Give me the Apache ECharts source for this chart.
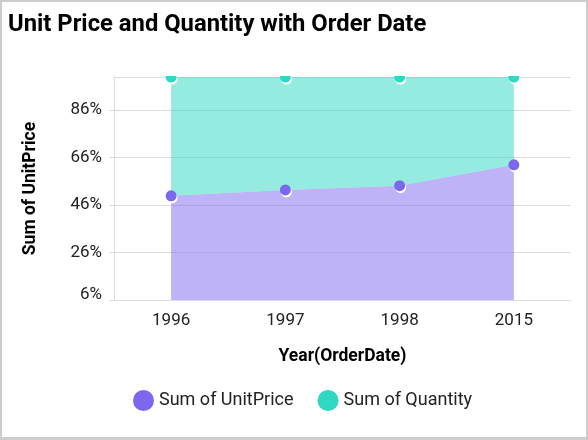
<!DOCTYPE html>
<html>
<head>
<meta charset="utf-8">
<script src="https://cdn.jsdelivr.net/npm/echarts@6/dist/echarts.min.js"></script>
<style>
    html, body { margin: 0; padding: 0; background: #fff; }
    #chart { width: 584px; height: 435px; border: 2px solid #cccccc; border-bottom-width: 3px; }
</style>
</head>
<body>
<div id="chart"></div>
<script>
// years on the x axis
var years = ['1996', '1997', '1998', '2015'];
// share of each series per year, in percent (100% stacked)
var unitPricePct = [49.9, 52.4, 54.2, 63.0];
var quantityPct = [50.1, 47.6, 45.8, 37.0];
var seriesNames = ['Sum of UnitPrice', 'Sum of Quantity'];

var purple = '#7b68ee';
var teal = '#2ed8c3';

var chart = echarts.init(document.getElementById('chart'));

function areaSeries(name, data, color) {
    return {
        name: name,
        type: 'line',
        stack: 'total',
        data: data,
        symbol: 'circle',
        symbolSize: 11,
        lineStyle: { width: 0 },
        areaStyle: { color: color, opacity: 0.5 },
        itemStyle: {
            color: color,
            shadowColor: '#ffffff',
            shadowBlur: 0,
            shadowOffsetX: 1,
            shadowOffsetY: 2
        },
        emphasis: { disabled: true }
    };
}

chart.setOption({
    animation: false,
    textStyle: { fontFamily: 'Roboto' },
    title: {
        text: 'Unit Price and Quantity with Order Date',
        left: 1,
        top: 6,
        textStyle: { fontSize: 23.8, fontWeight: 'bold', color: '#000' }
    },
    grid: { left: 112, right: 15, top: 75, bottom: 137 },
    legend: {
        bottom: 21,
        left: 126,
        icon: 'circle',
        itemWidth: 21,
        itemHeight: 21,
        itemGap: 24,
        itemStyle: { borderWidth: 0 },
        textStyle: { fontSize: 18, color: '#222' },
        data: seriesNames
    },
    xAxis: {
        type: 'category',
        data: years,
        boundaryGap: true,
        name: 'Year(OrderDate)',
        nameLocation: 'middle',
        nameGap: 48,
        nameTextStyle: { fontSize: 17.5, fontWeight: 'bold', color: '#000' },
        axisLine: { lineStyle: { color: '#dcdcdc' } },
        axisTick: { length: 6, lineStyle: { color: '#dcdcdc' } },
        axisLabel: { fontSize: 17, color: '#222', margin: 12 }
    },
    yAxis: {
        type: 'value',
        min: 6,
        max: 100,
        interval: 20,
        name: 'Sum of UnitPrice',
        nameLocation: 'middle',
        nameGap: 74,
        nameTextStyle: { fontSize: 17.5, fontWeight: 'bold', color: '#000' },
        axisLine: { show: true, lineStyle: { color: '#dcdcdc' } },
        axisTick: { show: true, length: 5, lineStyle: { color: '#dcdcdc' } },
        axisLabel: {
            fontSize: 17,
            color: '#222',
            margin: 12,
            showMaxLabel: false,
            formatter: function (v) {
                // lowest label sits a little above its line
                return v === 6 ? '{lo|' + v + '%}' : v + '%';
            },
            rich: { lo: { fontSize: 17, color: '#222', padding: [0, 0, 10, 0] } }
        },
        splitLine: { lineStyle: { color: '#dcdcdc' } }
    },
    graphic: [{
        type: 'rect',
        z: 4,
        shape: { x: 100, y: 40, width: 484, height: 34 },
        style: { fill: '#ffffff' },
        silent: true
    }],
    series: [
        areaSeries(seriesNames[0], unitPricePct, purple),
        areaSeries(seriesNames[1], quantityPct, teal)
    ]
});
</script>
</body>
</html>
